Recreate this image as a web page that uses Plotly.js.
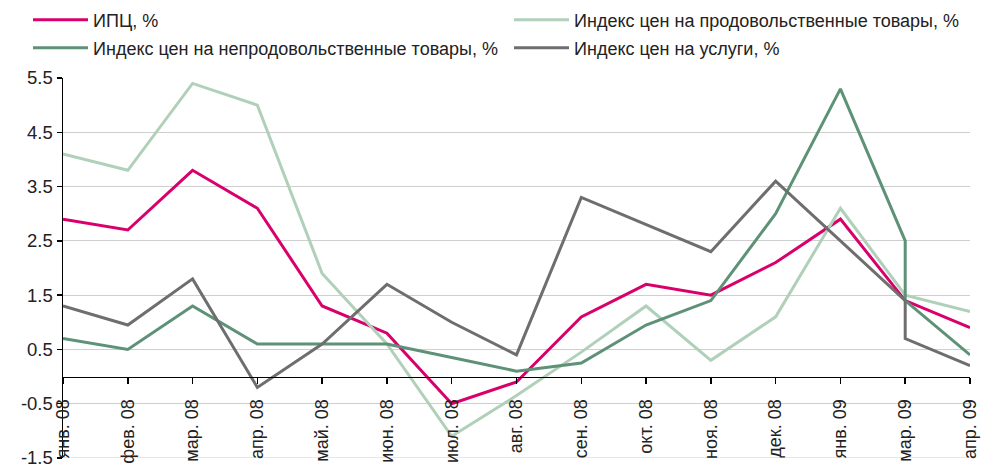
<!DOCTYPE html>
<html><head><meta charset="utf-8">
<script src="https://cdn.plot.ly/plotly-3.0.1.min.js"></script>
<style>html,body{margin:0;padding:0;background:#fff}</style>
</head><body><div id="chart" style="width:984px;height:465px"></div>
<script>
// Month labels for each data point (мар. 09 appears twice in the source series)
const months = ["янв. 08","фев. 08","мар. 08","апр. 08","май. 08","июн. 08","июл. 08","авг. 08","сен. 08","окт. 08","ноя. 08","дек. 08","янв. 09","мар. 09","мар. 09","апр. 09"];
const tickLabels = ["янв. 08","фев. 08","мар. 08","апр. 08","май. 08","июн. 08","июл. 08","авг. 08","сен. 08","окт. 08","ноя. 08","дек. 08","янв. 09","мар. 09","апр. 09"];
const cpi      = [2.9, 2.7, 3.8, 3.1, 1.3, 0.8, -0.5, -0.1, 1.1, 1.7, 1.5, 2.1, 2.9, 1.4, 1.4, 0.9];
const food     = [4.1, 3.8, 5.4, 5.0, 1.9, 0.6, -1.1, -0.35, 0.45, 1.3, 0.3, 1.1, 3.1, 1.5, 1.5, 1.2];
const nonfood  = [0.7, 0.5, 1.3, 0.6, 0.6, 0.6, 0.35, 0.1, 0.25, 0.95, 1.4, 3.0, 5.3, 2.5, 1.4, 0.4];
const services = [1.3, 0.95, 1.8, -0.2, 0.6, 1.7, 1.0, 0.4, 3.3, 2.8, 2.3, 3.6, 2.5, 1.4, 0.7, 0.2];
const yTickVals = [-1.5, -0.5, 0.5, 1.5, 2.5, 3.5, 4.5, 5.5];
const yTickText = ["-1.5", "-0.5", "0.5", "1.5", "2.5", "3.5", "4.5", "5.5"];
const seriesNames = ["ИПЦ, %", "Индекс цен на продовольственные товары, %", "Индекс цен на непродовольственные товары, %", "Индекс цен на услуги, %"];

const FONT = "Liberation Sans, Arial, sans-serif";
const W = 984, H = 465;
const yMin = -1.5, yMax = 5.5;

const traces = [
  {x: months, y: cpi, name: seriesNames[0], legend: 'legend', line: {color: '#D9006C', width: 3}},
  {x: months, y: food, name: seriesNames[1], legend: 'legend2', line: {color: '#B0D0BA', width: 3}},
  {x: months, y: nonfood, name: seriesNames[2], legend: 'legend3', line: {color: '#5E9277', width: 3}},
  {x: months, y: services, name: seriesNames[3], legend: 'legend4', line: {color: '#6E6E6E', width: 3}}
].map(t => Object.assign({type: 'scatter', mode: 'lines', hoverinfo: 'skip'}, t));

const legendBase = {
  orientation: 'h', xref: 'container', yref: 'container',
  xanchor: 'left', yanchor: 'middle',
  font: {family: FONT, size: 18, color: '#222'},
  itemwidth: 55, bgcolor: 'rgba(0,0,0,0)',
  itemclick: false, itemdoubleclick: false
};
const col1 = 28 / W, col2 = 509 / W, row1 = 1 - 20 / H, row2 = 1 - 48 / H;

const layout = {
  width: W, height: H,
  margin: {l: 63, r: 14, t: 78, b: 7, pad: 0, autoexpand: false},
  paper_bgcolor: '#fff', plot_bgcolor: '#fff',
  font: {family: FONT, size: 18, color: '#222'},
  showlegend: true,
  legend: Object.assign({}, legendBase, {x: col1, y: row1}),
  legend2: Object.assign({}, legendBase, {x: col2, y: row1}),
  legend3: Object.assign({}, legendBase, {x: col1, y: row2}),
  legend4: Object.assign({}, legendBase, {x: col2, y: row2}),
  xaxis: {
    type: 'category', categoryorder: 'array', categoryarray: tickLabels,
    range: [0, tickLabels.length - 1],
    anchor: 'free', position: (0 - yMin) / (yMax - yMin),
    showline: true, linecolor: '#000', linewidth: 1.5,
    ticks: 'outside', ticklen: 6, tickwidth: 1.5, tickcolor: '#000',
    tickangle: -90, ticklabelstandoff: 8, ticklabeloverflow: 'allow',
    tickfont: {family: FONT, size: 18, color: '#222'},
    showgrid: false, zeroline: false, fixedrange: true
  },
  yaxis: {
    range: [yMin, yMax], tickvals: yTickVals, ticktext: yTickText,
    showline: true, linecolor: '#000', linewidth: 1.5,
    ticks: 'outside', ticklen: 5, tickwidth: 1.5, tickcolor: '#000',
    ticklabelstandoff: 0, ticklabeloverflow: 'allow',
    tickfont: {family: FONT, size: 18.5, color: '#222'},
    showgrid: true, gridcolor: '#CFCFCF', gridwidth: 1.2,
    zeroline: false, fixedrange: true
  },
  shapes: [
    {type: 'line', xref: 'paper', yref: 'y', x0: 0, x1: 1, y0: yMin, y1: yMin,
     line: {color: '#CFCFCF', width: 1.2}, layer: 'below'}
  ]
};

Plotly.newPlot('chart', traces, layout, {staticPlot: true, displayModeBar: false});
</script>
</body></html>
